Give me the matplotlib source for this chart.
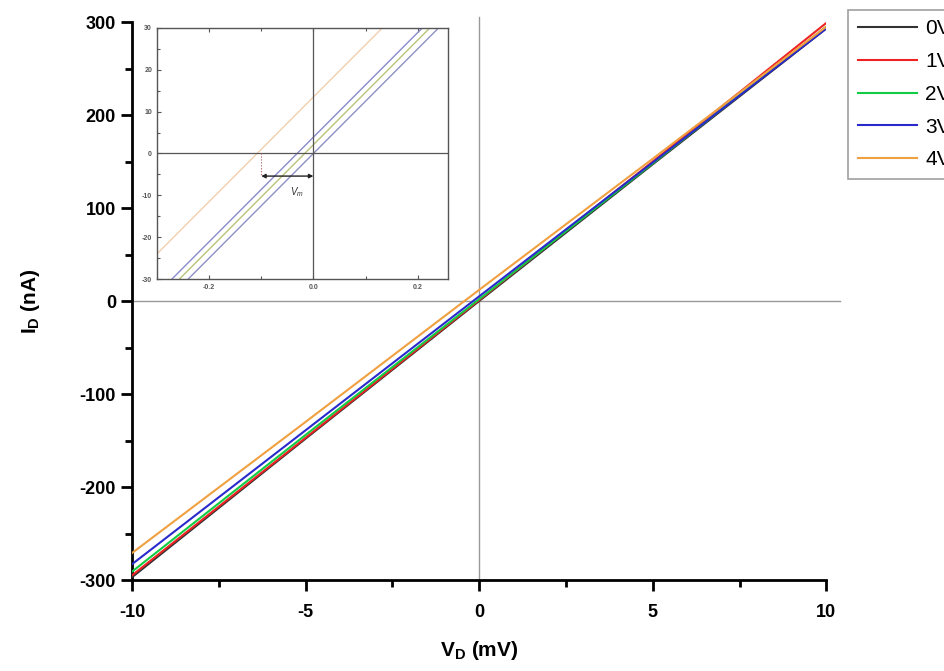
import matplotlib
matplotlib.use("Agg")
import matplotlib.pyplot as plt
from matplotlib.ticker import MultipleLocator

plt.rcParams['font.family'] = ['Liberation Sans', 'DejaVu Sans']
plt.rcParams['mathtext.fontset'] = 'custom'
plt.rcParams['mathtext.rm'] = 'Liberation Sans'
plt.rcParams['mathtext.it'] = 'Liberation Sans:italic'
plt.rcParams['mathtext.bf'] = 'Liberation Sans:bold'
plt.rcParams['axes.unicode_minus'] = False

# Drain sweep (mV) and drain current (nA) for each gate voltage
v_drain = [-10, -5, 0, 5, 10]
labels = ["0V", "1V", "2V", "3V", "4V"]
i_0v = [-297, -148, 0, 147, 293]
i_1v = [-295, -147, 1, 150, 299]
i_2v = [-291, -144, 2, 148, 295]
i_3v = [-283, -139, 5, 149, 293]
i_4v = [-271, -130, 12, 153, 295]
colors = ["#333333", "#ee2222", "#11cc44", "#2a2acc", "#f0a040"]

# Zoomed view near the origin
inset_v = [-0.3, 0.0, 0.3]
inset_a = [-37.5, 0.0, 37.5]
inset_b = [-35.4, 2.1, 39.6]
inset_c = [-33.6, 3.9, 41.4]
inset_d = [-24.0, 13.5, 51.0]
inset_colors = ["#8f8fc8", "#b8c47a", "#8a8acc", "#f2cfae"]

fig = plt.figure(figsize=(9.45, 6.71), dpi=100)
ax = fig.add_axes([0.1397, 0.1356, 0.7347, 0.8316])

for ys, lab, c in zip([i_0v, i_1v, i_2v, i_3v, i_4v], labels, colors):
    ax.plot(v_drain, ys, color=c, lw=1.5, label=lab, zorder=3)

ax.plot([0, 0], [-300, 305], color="#999999", lw=1.0, clip_on=False, zorder=1)
ax.plot([-10, 10.4], [0, 0], color="#999999", lw=1.0, clip_on=False, zorder=1)

ax.set_xlim(-10, 10)
ax.set_ylim(-300, 300)
for s in ("top", "right"):
    ax.spines[s].set_visible(False)
for s in ("left", "bottom"):
    ax.spines[s].set_linewidth(2.0)
ax.xaxis.set_major_locator(MultipleLocator(5))
ax.xaxis.set_minor_locator(MultipleLocator(2.5))
ax.yaxis.set_major_locator(MultipleLocator(100))
ax.yaxis.set_minor_locator(MultipleLocator(50))
ax.tick_params(which="major", direction="out", length=8, width=2,
               labelsize=13)
ax.tick_params(which="minor", direction="out", length=5, width=2)
ax.tick_params(axis="x", which="major", pad=9)
for t in ax.get_xticklabels() + ax.get_yticklabels():
    t.set_fontweight("bold")
ax.set_xlabel(r"$\mathbf{V_D}$ (mV)", fontsize=15, fontweight="bold",
              labelpad=13)
ax.set_ylabel(r"$\mathbf{I_D}$ (nA)", fontsize=15, fontweight="bold",
              labelpad=27)

leg = ax.legend(loc="upper left", bbox_to_anchor=(0.8975, 0.985),
                bbox_transform=fig.transFigure, fontsize=15, frameon=True,
                fancybox=False, edgecolor="#888888", handlelength=2.85,
                handletextpad=0.4, labelspacing=0.66, borderpad=0.45,
                borderaxespad=0)
leg.get_frame().set_linewidth(1.2)

# Inset
ins = fig.add_axes([0.1661, 0.5842, 0.3079, 0.3741])
for ys, c in zip([inset_a, inset_b, inset_c, inset_d], inset_colors):
    ins.plot(inset_v, ys, color=c, lw=1.0)
ins.axhline(0, color="#555555", lw=0.9)
ins.axvline(0, color="#555555", lw=0.9)
ins.set_xlim(-0.3, 0.258)
ins.set_ylim(-30, 30)
ins.xaxis.set_major_locator(MultipleLocator(0.2))
ins.xaxis.set_minor_locator(MultipleLocator(0.1))
ins.yaxis.set_major_locator(MultipleLocator(10))
ins.yaxis.set_minor_locator(MultipleLocator(5))
ins.tick_params(which="both", direction="in", top=True, labelsize=5,
                labelcolor="#555555", color="#555555", width=0.8)
ins.tick_params(which="major", length=3)
ins.tick_params(which="minor", length=2)
for t in ins.get_xticklabels() + ins.get_yticklabels():
    t.set_fontweight("bold")
for s in ins.spines.values():
    s.set_color("#555555")
    s.set_linewidth(1.0)
ins.plot([-0.1, -0.1], [0, -5.4], color="#aa5555", lw=0.8, ls=":")
ins.annotate("", xy=(-0.1, -5.4), xytext=(0.0, -5.4),
             arrowprops=dict(arrowstyle="<|-|>", color="#222222", lw=1.0,
                             mutation_scale=6, shrinkA=0, shrinkB=0))
ins.text(-0.045, -7.5, r"$V_m$", fontsize=7, color="#333333",
         ha="left", va="top")

fig.savefig("out.png", dpi=100)
